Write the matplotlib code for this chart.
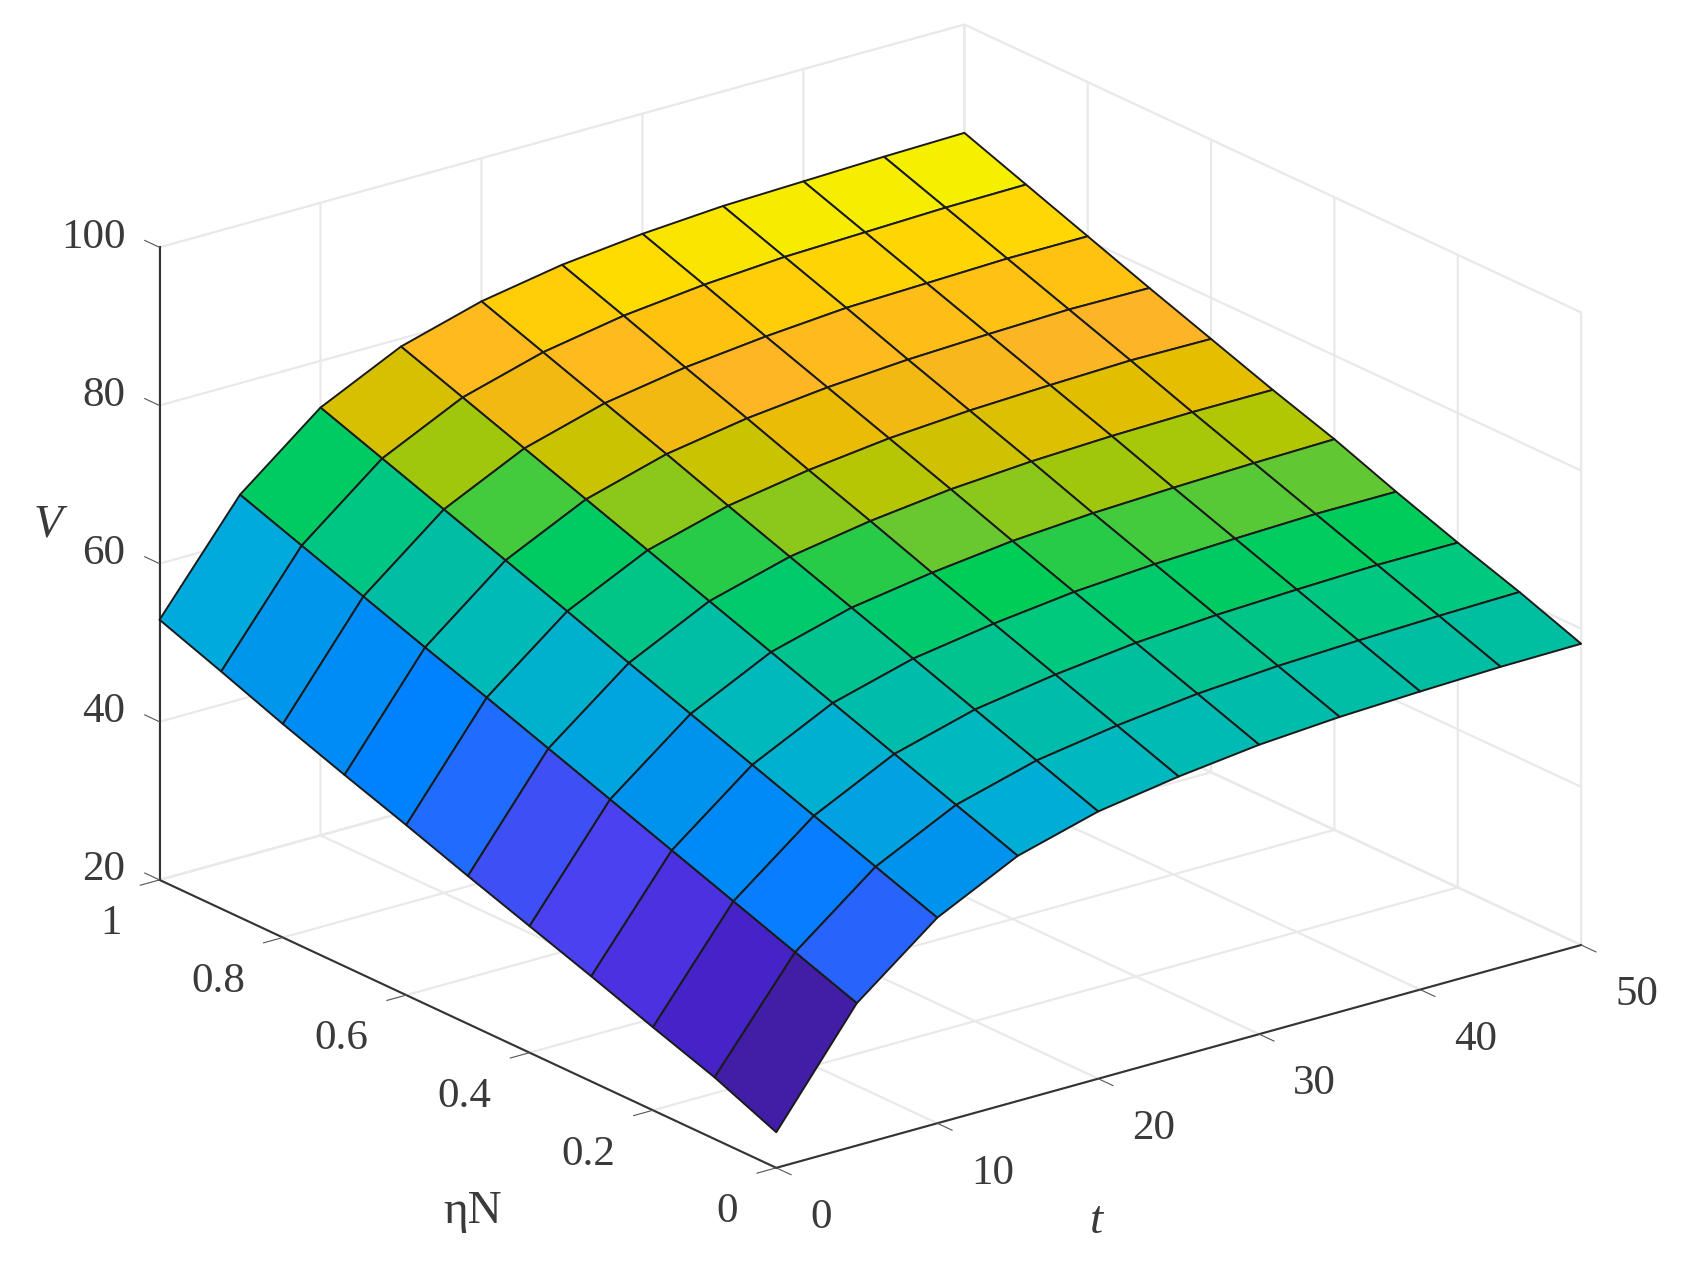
import matplotlib
matplotlib.use("Agg")
import matplotlib.pyplot as plt
import numpy as np
from matplotlib.colors import LinearSegmentedColormap
from mpl_toolkits.mplot3d import proj3d

plt.rcParams["font.family"] = ["Liberation Serif", "DejaVu Serif"]

t_values = [0, 5, 10, 15, 20, 25, 30, 35, 40, 45, 50]
eta_values = [0.0, 0.1, 0.2, 0.3, 0.4, 0.5, 0.6, 0.7, 0.8, 0.9, 1.0]
# one row per eta value, one column per t value
v_values = [
    [24.5, 38.0, 46.0, 51.0, 53.8, 55.4, 56.6, 57.3, 57.7, 58.0, 58.1],
    [27.8, 40.8, 48.8, 53.8, 56.6, 58.2, 59.4, 60.1, 60.5, 60.8, 61.0],
    [30.5, 43.6, 51.6, 56.6, 59.4, 61.0, 62.2, 62.9, 63.3, 63.6, 63.6],
    [33.3, 46.4, 54.4, 59.4, 62.2, 63.8, 65.0, 65.7, 66.1, 66.4, 66.4],
    [36.0, 49.2, 57.2, 62.2, 65.0, 66.6, 67.8, 68.5, 68.9, 69.2, 69.4],
    [38.7, 52.0, 60.0, 65.0, 67.8, 69.5, 70.7, 71.4, 71.8, 72.0, 72.0],
    [41.5, 54.8, 62.9, 67.8, 70.6, 72.3, 73.5, 74.2, 74.6, 74.9, 74.8],
    [44.2, 57.5, 65.7, 70.6, 73.5, 75.2, 76.3, 77.0, 77.4, 77.7, 77.6],
    [47.0, 60.3, 68.5, 73.4, 76.3, 78.0, 79.1, 79.9, 80.2, 80.5, 80.5],
    [50.0, 63.1, 71.3, 76.2, 79.1, 80.9, 82.0, 82.7, 83.0, 83.3, 83.4],
    [52.9, 65.9, 74.1, 79.0, 81.9, 83.7, 84.8, 85.5, 85.8, 86.1, 86.3],
]
t_ticks = [0, 10, 20, 30, 40, 50]
eta_ticks = [0, 0.2, 0.4, 0.6, 0.8, 1]
v_ticks = [20, 40, 60, 80, 100]
t_tick_labels = ["0", "10", "20", "30", "40", "50"]
eta_tick_labels = ["0", "0.2", "0.4", "0.6", "0.8", "1"]
v_tick_labels = ["20", "40", "60", "80", "100"]

color_levels = [24.5, 27.8, 30.5, 33.3, 36.0, 38.7, 41.5, 47.0, 50.0, 54.0, 58.0,
                61.0, 64.0, 66.5, 69.0, 72.0, 75.0, 78.0, 81.0, 83.5, 86.3]
color_values = ["#421ea6", "#4623c8", "#4b32e1", "#4b41f0", "#3c50f5", "#1e6eff", "#0082ff",
                "#0096eb", "#00aadc", "#00b9be", "#00bea0", "#00c87d", "#00cd55", "#64c832",
                "#aac805", "#e6be00", "#ffb428", "#ffc30f", "#ffdc00", "#f5f000", "#fafa00"]

W, H = 1685, 1276
GRID = "#e9e9e9"
INK = "#3a3a3a"

T, E = np.meshgrid(t_values, eta_values)
V = np.array(v_values)
lo, hi = color_levels[0], color_levels[-1]
nodes = [(lev - lo) / (hi - lo) for lev in color_levels]
cmap = LinearSegmentedColormap.from_list("cells", list(zip(nodes, color_values)))

fig = plt.figure(figsize=(W / 100, H / 100), dpi=100, facecolor="white")
S = 1800
ax = fig.add_axes([(846 - S / 2) / W, (H - 620.5 - S / 2) / H, S / W, S / H], projection="3d")
ax.set_proj_type("ortho")
ax.view_init(elev=21.07, azim=-127.6)
ax.set_box_aspect((1016, 1011, 678), zoom=0.855)
ax.patch.set_alpha(0)

ax.plot_surface(T, E, V, facecolors=cmap((V - lo) / (hi - lo)), shade=False,
                rstride=1, cstride=1, edgecolor="#1a1a1a", linewidth=1.4)

ax.set_xlim(0, 50)
ax.set_ylim(0, 1)
ax.set_zlim(20, 100)
ax.set_xticks(t_ticks)
ax.set_yticks(eta_ticks)
ax.set_zticks(v_ticks)
ax.set_xticklabels([])
ax.set_yticklabels([])
ax.set_zticklabels([])

for axis in (ax.xaxis, ax.yaxis, ax.zaxis):
    axis.set_pane_color((1, 1, 1, 1))
    axis.pane.set_edgecolor(GRID)
    axis._axinfo["grid"].update(color=GRID, linewidth=1.6)
    axis.line.set_color("#333333")
    axis.line.set_linewidth(1.5)

# ticks stick out of the box: along -eta on t, along -t on eta, along +eta on V
ax.xaxis._axinfo["tick"].update(inward_factor=0.3, outward_factor=0)
ax.yaxis._axinfo["tick"].update(inward_factor=0.3, outward_factor=0)
ax.zaxis._axinfo["tick"].update(inward_factor=0, outward_factor=0.3)
ax.zaxis._get_tickdir = lambda position: 1
ax.tick_params(colors="#555555", width=1.2)

fig.canvas.draw()


def to_2d(t, eta, v):
    x2, y2, _ = proj3d.proj_transform(t, eta, v, ax.get_proj())
    return x2, y2


def put_label(text, t, eta, v, dx, dy, ha="center"):
    ax.annotate(text, xy=to_2d(t, eta, v), xytext=(dx, dy), textcoords="offset pixels",
                ha=ha, va="center", fontsize=31, color=INK, annotation_clip=False)


for tick, label in zip(t_ticks, t_tick_labels):
    put_label(label, tick, 0, 20, 34, -50, ha="left")
for tick, label in zip(eta_ticks, eta_tick_labels):
    put_label(label, 0, tick, 20, -38, -44, ha="right")
for tick, label in zip(v_ticks, v_tick_labels):
    put_label(label, 0, 1, tick, -34, 10, ha="right")

fig.text(1096 / W, 1 - 1222 / H, "t", style="italic", fontsize=34, color=INK, ha="center", va="center")
fig.text(48 / W, 1 - 525 / H, "V", style="italic", fontsize=34, color=INK, ha="center", va="center")
fig.text(473 / W, 1 - 1212 / H, "ηN", fontsize=34, color=INK, ha="center", va="center")

fig.savefig("out.png", dpi=100)
